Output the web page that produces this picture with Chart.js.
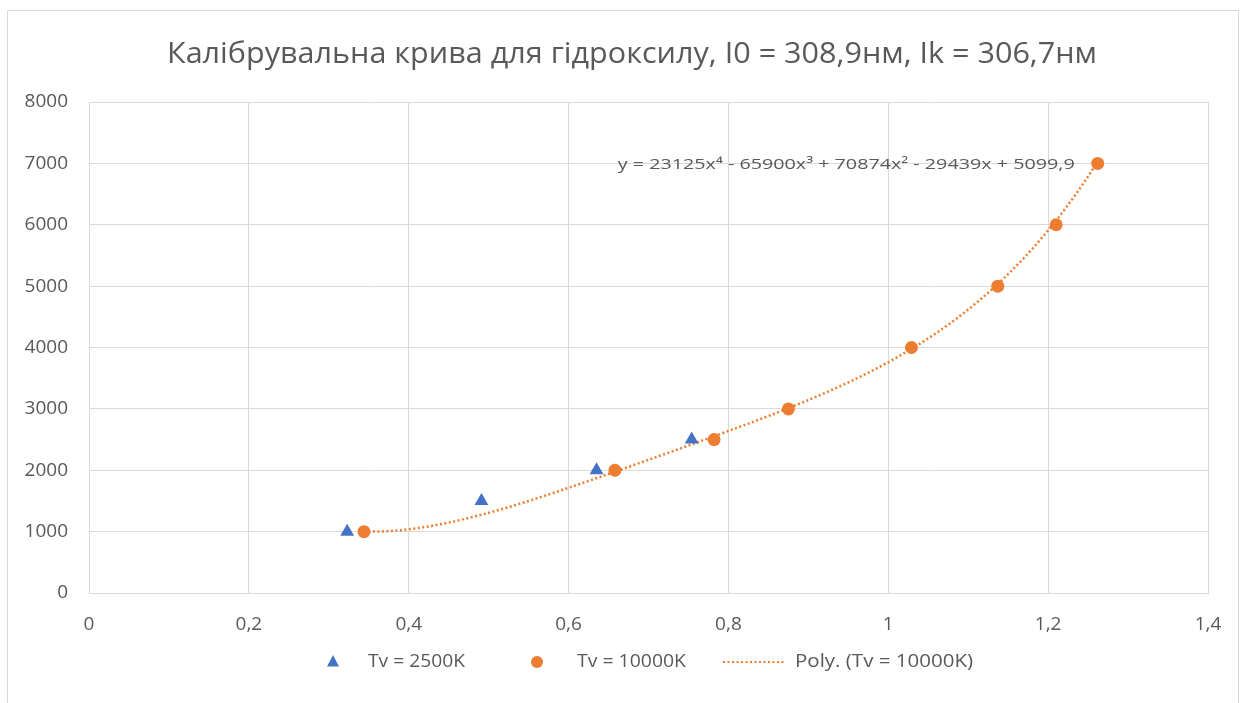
<!DOCTYPE html>
<html>
<head>
<meta charset="utf-8">
<script src="https://cdn.jsdelivr.net/npm/chart.js@4/dist/chart.umd.min.js"></script>
<style>
  html, body { margin: 0; padding: 0; background: #ffffff; }
  #wrap { width: 1248px; height: 703px; position: relative; }
</style>
</head>
<body>
<div id="wrap"><canvas id="c" width="1248" height="703"></canvas></div>
<script>
// Calibration data for hydroxyl (OH) band
const chartTitle = 'Калібрувальна крива для гідроксилу, I0 = 308,9нм, Ik = 306,7нм';

const tv2500Label = 'Tv = 2500K';
const tv2500X = [0.323, 0.491, 0.635, 0.754];
const tv2500Y = [1000, 1500, 2000, 2500];

const tv10000Label = 'Tv = 10000K';
const tv10000X = [0.344, 0.658, 0.782, 0.875, 1.029, 1.137, 1.210, 1.262];
const tv10000Y = [1000, 2000, 2500, 3000, 4000, 5000, 6000, 7000];

// 4th-order polynomial trend for Tv = 10000K: c4 x^4 + c3 x^3 + c2 x^2 + c1 x + c0
const trendLabel = 'Poly. (Tv = 10000K)';
const trendCoefs = [23125, -65900, 70874, -29439, 5099.9];
const trendEquation = 'y = 23125x⁴ - 65900x³ + 70874x² - 29439x + 5099,9';

const xTicks = [0, 0.2, 0.4, 0.6, 0.8, 1, 1.2, 1.4];
const yTicks = [0, 1000, 2000, 3000, 4000, 5000, 6000, 7000, 8000];

const BLUE = '#4472C4';
const ORANGE = '#ED7D31';
const GRID = '#D9D9D9';
const TEXT = '#595959';
const FONT = "'Open Sans', 'Liberation Sans', sans-serif";

function toPoints(xs, ys) { return xs.map((x, i) => ({ x: x, y: ys[i] })); }

function polyAt(x) {
  let v = 0;
  for (const c of trendCoefs) v = v * x + c;
  return v;
}

// trend curve spans the range of the fitted series
const trendPoints = [];
{
  const x0 = Math.min(...tv10000X), x1 = Math.max(...tv10000X), n = 120;
  for (let i = 0; i <= n; i++) {
    const x = x0 + (x1 - x0) * i / n;
    trendPoints.push({ x: x, y: polyAt(x) });
  }
}

const fmtComma = v => String(Math.round(v * 10) / 10).replace('.', ',');

// text squeezed/stretched horizontally to a given width
function fillTextWidth(ctx, text, x, y, width, align) {
  const w = ctx.measureText(text).width;
  const k = width / w;
  ctx.save();
  ctx.textAlign = 'left';
  let left = x;
  if (align === 'center') left = x - width / 2;
  else if (align === 'right') left = x - width;
  ctx.translate(left, y);
  ctx.scale(k, 1);
  ctx.fillText(text, 0, 0);
  ctx.restore();
}

const framePlugin = {
  id: 'frame',
  beforeDraw(chart) {
    const ctx = chart.ctx;
    ctx.save();
    ctx.fillStyle = '#ffffff';
    ctx.fillRect(0, 0, chart.width, chart.height);
    ctx.strokeStyle = GRID;
    ctx.lineWidth = 1;
    ctx.strokeRect(7.5, 10.5, 1231, 720);
    // title
    ctx.fillStyle = TEXT;
    ctx.font = "29px " + FONT;
    ctx.textBaseline = 'middle';
    fillTextWidth(ctx, chartTitle, 632, 55, 930, 'center');
    ctx.restore();
  },
  afterDatasetsDraw(chart) {
    const ctx = chart.ctx;
    const xs = chart.scales.x, ys = chart.scales.y;
    ctx.save();
    // trend equation next to the last point of the fitted series
    const lx = xs.getPixelForValue(tv10000X[tv10000X.length - 1]);
    const ly = ys.getPixelForValue(tv10000Y[tv10000Y.length - 1]);
    ctx.font = "15px " + FONT;
    ctx.fillStyle = TEXT;
    ctx.textBaseline = 'middle';
    fillTextWidth(ctx, trendEquation, lx - 23, ly + 1, 457, 'right');

    // legend
    const cy = 662;
    ctx.font = "18px " + FONT;
    ctx.textBaseline = 'middle';
    ctx.fillStyle = BLUE;
    ctx.beginPath();
    ctx.moveTo(333, cy - 7);
    ctx.lineTo(339, cy + 4.5);
    ctx.lineTo(327, cy + 4.5);
    ctx.closePath();
    ctx.fill();
    ctx.fillStyle = TEXT;
    fillTextWidth(ctx, tv2500Label, 368, cy, 97, 'left');

    ctx.fillStyle = ORANGE;
    ctx.beginPath();
    ctx.arc(537, cy, 6, 0, Math.PI * 2);
    ctx.fill();
    ctx.fillStyle = TEXT;
    fillTextWidth(ctx, tv10000Label, 577, cy, 109, 'left');

    ctx.strokeStyle = ORANGE;
    ctx.lineWidth = 2;
    ctx.setLineDash([2, 2.5]);
    ctx.beginPath();
    ctx.moveTo(723, cy);
    ctx.lineTo(785, cy);
    ctx.stroke();
    ctx.setLineDash([]);
    ctx.fillStyle = TEXT;
    fillTextWidth(ctx, trendLabel, 795, cy, 178, 'left');
    ctx.restore();
  }
};

new Chart(document.getElementById('c'), {
  type: 'scatter',
  data: {
    datasets: [
      {
        label: trendLabel,
        data: trendPoints,
        showLine: true,
        borderColor: ORANGE,
        borderWidth: 2.5,
        borderDash: [2, 2.5],
        pointRadius: 0,
        fill: false,
        tension: 0,
        order: 3
      },
      {
        label: tv10000Label,
        data: toPoints(tv10000X, tv10000Y),
        pointStyle: 'circle',
        pointRadius: 6.5,
        backgroundColor: ORANGE,
        borderColor: ORANGE,
        borderWidth: 0,
        order: 2
      },
      {
        label: tv2500Label,
        data: toPoints(tv2500X, tv2500Y),
        pointStyle: 'triangle',
        pointRadius: 8,
        backgroundColor: BLUE,
        borderColor: BLUE,
        borderWidth: 0,
        order: 1
      }
    ]
  },
  options: {
    responsive: false,
    animation: false,
    events: [],
    layout: { padding: { left: 0, top: 102, right: 40, bottom: 0 } },
    plugins: {
      legend: { display: false },
      title: { display: false },
      tooltip: { enabled: false }
    },
    scales: {
      x: {
        type: 'linear',
        min: 0,
        max: 1.4,
        afterBuildTicks: s => { s.ticks = xTicks.map(v => ({ value: v })); },
        afterFit: s => { s.height = 110; },
        grid: { color: GRID, lineWidth: 1, drawTicks: false },
        border: { color: GRID },
        ticks: {
          color: TEXT,
          padding: 20,
          font: { family: FONT, size: 19 },
          callback: v => fmtComma(v),
          maxRotation: 0
        }
      },
      y: {
        type: 'linear',
        min: 0,
        max: 8000,
        afterBuildTicks: s => { s.ticks = yTicks.map(v => ({ value: v })); },
        afterFit: s => { s.width = 89; },
        grid: { color: GRID, lineWidth: 1, drawTicks: false },
        border: { color: GRID },
        ticks: {
          color: TEXT,
          padding: 21,
          font: { family: FONT, size: 19 },
          callback: v => String(v)
        }
      }
    }
  },
  plugins: [framePlugin]
});
</script>
</body>
</html>
